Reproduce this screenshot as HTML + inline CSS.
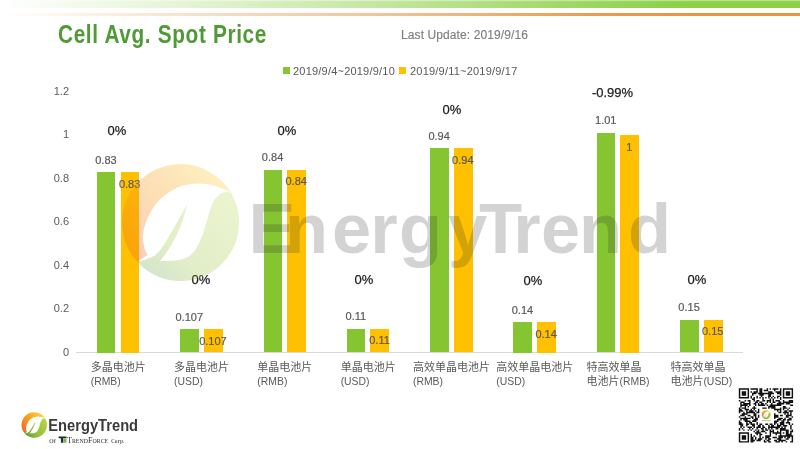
<!DOCTYPE html>
<html lang="zh">
<head>
<meta charset="utf-8">
<title>Cell Avg. Spot Price</title>
<style>
html,body{margin:0;padding:0;}
body{width:800px;height:449px;position:relative;overflow:hidden;background:#fff;font-family:"Liberation Sans","Noto Sans CJK SC",sans-serif;}
.abs{position:absolute;}
.topbar{left:0;top:0;width:800px;height:7.7px;background:linear-gradient(180deg,rgba(255,255,255,0.4) 0,rgba(255,255,255,0.4) 1px,rgba(255,255,255,0) 1.6px),linear-gradient(90deg,rgba(139,208,70,0) 0%,rgba(139,208,70,0.25) 25%,rgba(139,208,70,0.55) 50%,rgba(139,208,70,0.78) 67%,#8bd046 86%,#8bd046 100%);}
.topline{left:0;top:12.8px;width:800px;height:2.8px;background:linear-gradient(90deg,rgba(233,150,69,0) 0%,rgba(233,150,69,0.3) 25%,rgba(233,150,69,0.6) 50%,rgba(233,150,69,0.95) 75%,#e99645 85%,#e99645 100%);}
.title{left:57.5px;top:16.7px;font-size:25.5px;line-height:34px;color:#4f9a35;white-space:nowrap;transform-origin:0 0;font-weight:bold;transform:scaleX(0.815);letter-spacing:0.8px;}
.upd{left:401px;top:27px;font-size:12px;line-height:16px;color:#7f7f7f;white-space:nowrap;transform-origin:0 0;letter-spacing:0.1px;-webkit-text-stroke:0.15px #7f7f7f;}
.leg{font-size:11px;line-height:14px;color:#595959;white-space:nowrap;transform-origin:0 0;}
.sq{width:7px;height:7px;}
.g{background:#86c532;}
.y{background:#ffc000;}
.ylab{font-size:11px;line-height:14px;color:#595959;text-align:right;width:40px;left:29px;}
.axis{left:76px;top:352px;width:667px;height:1px;background:#d9d9d9;}
.dl{font-size:11px;line-height:14px;color:#595959;-webkit-text-stroke:0.2px #595959;white-space:nowrap;text-align:center;width:50px;}
.pct{font-size:13.6px;line-height:18px;color:#1c1c1c;-webkit-text-stroke:0.25px #1c1c1c;white-space:nowrap;text-align:center;width:80px;}
.pct span{display:inline-block;transform:scaleX(0.955);}
.la{font-size:10.4px;}
.cat{font-size:11px;line-height:14px;color:#595959;white-space:nowrap;}
</style>
</head>
<body>
<div class="abs topbar"></div>
<div class="abs topline"></div>
<div class="abs title">Cell Avg. Spot Price</div>
<div class="abs upd">Last Update: 2019/9/16</div>
<div class="abs sq g" style="left:282.6px;top:66.9px"></div>
<div class="abs leg" style="left:293px;top:63.7px;letter-spacing:0.21px">2019/9/4~2019/9/10</div>
<div class="abs sq y" style="left:399.1px;top:66.9px"></div>
<div class="abs leg" style="left:410px;top:63.7px;letter-spacing:0.21px">2019/9/11~2019/9/17</div>

<div class="abs ylab" style="top:344.5px">0</div>
<div class="abs ylab" style="top:301.0px">0.2</div>
<div class="abs ylab" style="top:257.5px">0.4</div>
<div class="abs ylab" style="top:214.0px">0.6</div>
<div class="abs ylab" style="top:170.5px">0.8</div>
<div class="abs ylab" style="top:127.0px">1</div>
<div class="abs ylab" style="top:83.5px">1.2</div>
<div class="abs axis"></div>
<div class="abs bar g" style="left:96.90px;top:172.0px;width:18.6px;height:180.5px"></div>
<div class="abs bar y" style="left:120.55px;top:172.0px;width:18.9px;height:180.5px"></div>
<div class="abs dl" style="left:80.98px;top:152.5px">0.83</div>
<div class="abs dl" style="left:104.63px;top:176.5px">0.83</div>
<div class="abs pct" style="left:76.50px;top:122.00px"><span>0%</span></div>
<div class="abs cat" style="left:118.25px;top:359.6px;transform:translateX(-50%)">多晶电池片<br><span class="la">(RMB)</span></div>
<div class="abs bar g" style="left:180.20px;top:329.2px;width:18.6px;height:23.3px"></div>
<div class="abs bar y" style="left:203.85px;top:329.2px;width:18.9px;height:23.3px"></div>
<div class="abs dl" style="left:164.28px;top:309.7px">0.107</div>
<div class="abs dl" style="left:187.93px;top:333.7px">0.107</div>
<div class="abs pct" style="left:160.55px;top:271.35px"><span>0%</span></div>
<div class="abs cat" style="left:201.55px;top:359.6px;transform:translateX(-50%)">多晶电池片<br><span class="la">(USD)</span></div>
<div class="abs bar g" style="left:263.50px;top:169.8px;width:18.6px;height:182.7px"></div>
<div class="abs bar y" style="left:287.15px;top:169.8px;width:18.9px;height:182.7px"></div>
<div class="abs dl" style="left:247.57px;top:150.3px">0.84</div>
<div class="abs dl" style="left:271.23px;top:174.3px">0.84</div>
<div class="abs pct" style="left:246.75px;top:122.00px"><span>0%</span></div>
<div class="abs cat" style="left:284.85px;top:359.6px;transform:translateX(-50%)">单晶电池片<br><span class="la">(RMB)</span></div>
<div class="abs bar g" style="left:346.80px;top:328.6px;width:18.6px;height:23.9px"></div>
<div class="abs bar y" style="left:370.45px;top:328.6px;width:18.9px;height:23.9px"></div>
<div class="abs dl" style="left:330.87px;top:309.1px">0.11</div>
<div class="abs dl" style="left:354.52px;top:333.1px">0.11</div>
<div class="abs pct" style="left:323.55px;top:271.45px"><span>0%</span></div>
<div class="abs cat" style="left:368.15px;top:359.6px;transform:translateX(-50%)">单晶电池片<br><span class="la">(USD)</span></div>
<div class="abs bar g" style="left:430.10px;top:148.1px;width:18.6px;height:204.4px"></div>
<div class="abs bar y" style="left:453.75px;top:148.1px;width:18.9px;height:204.4px"></div>
<div class="abs dl" style="left:414.17px;top:128.6px">0.94</div>
<div class="abs dl" style="left:437.82px;top:152.6px">0.94</div>
<div class="abs pct" style="left:411.50px;top:100.95px"><span>0%</span></div>
<div class="abs cat" style="left:451.45px;top:359.6px;transform:translateX(-50%)">高效单晶电池片<br><span class="la">(RMB)</span></div>
<div class="abs bar g" style="left:513.40px;top:322.1px;width:18.6px;height:30.5px"></div>
<div class="abs bar y" style="left:537.05px;top:322.1px;width:18.9px;height:30.5px"></div>
<div class="abs dl" style="left:497.47px;top:302.6px">0.14</div>
<div class="abs dl" style="left:521.12px;top:326.6px">0.14</div>
<div class="abs pct" style="left:493.25px;top:271.50px"><span>0%</span></div>
<div class="abs cat" style="left:534.75px;top:359.6px;transform:translateX(-50%)">高效单晶电池片<br><span class="la">(USD)</span></div>
<div class="abs bar g" style="left:596.70px;top:132.8px;width:18.6px;height:219.7px"></div>
<div class="abs bar y" style="left:620.35px;top:135.0px;width:18.9px;height:217.5px"></div>
<div class="abs dl" style="left:580.77px;top:113.3px">1.01</div>
<div class="abs dl" style="left:604.42px;top:139.5px">1</div>
<div class="abs pct" style="left:572.60px;top:83.70px"><span>-0.99%</span></div>
<div class="abs cat" style="left:618.05px;top:359.6px;transform:translateX(-50%)">特高效单晶<br>电池片<span class="la">(RMB)</span></div>
<div class="abs bar g" style="left:680.00px;top:319.9px;width:18.6px;height:32.6px"></div>
<div class="abs bar y" style="left:703.65px;top:319.9px;width:18.9px;height:32.6px"></div>
<div class="abs dl" style="left:664.08px;top:300.4px">0.15</div>
<div class="abs dl" style="left:687.73px;top:324.4px">0.15</div>
<div class="abs pct" style="left:656.95px;top:271.35px"><span>0%</span></div>
<div class="abs cat" style="left:701.35px;top:359.6px;transform:translateX(-50%)">特高效单晶<br>电池片<span class="la">(USD)</span></div>
<svg class="abs" style="left:0;top:0" width="800" height="449" viewBox="0 0 800 449">
<defs>
<linearGradient id="og" gradientUnits="userSpaceOnUse" x1="135" y1="255" x2="225" y2="180"><stop offset="0" stop-color="#f26a22"/><stop offset="0.5" stop-color="#f9a21d"/><stop offset="1" stop-color="#fdd044"/></linearGradient>
<linearGradient id="gg" gradientUnits="userSpaceOnUse" x1="230" y1="195" x2="150" y2="275"><stop offset="0" stop-color="#b4d645"/><stop offset="0.7" stop-color="#94be38"/><stop offset="1" stop-color="#5f9e40"/></linearGradient>
</defs>
<g>
<path d="M137.126,261.644 A58.5,58.5 0 1 1 230.744,192.370 C228.2,191.3 220.9,187.5 215.5,186.0 C210.1,184.5 204.4,183.2 198.2,183.4 C191.9,183.6 184.4,184.5 178.0,187.3 C171.6,190.1 164.6,194.9 159.5,200.0 C154.4,205.1 150.2,212.1 147.5,218.0 C144.8,223.9 143.5,230.3 143.0,235.3 C142.5,240.3 143.8,244.7 144.5,248.0 C145.2,251.3 147.0,253.8 147.5,255.0 Z" fill="url(#og)" opacity="0.33"/>
<path d="M230.744,192.370 A58.5,58.5 0 0 1 137.126,261.644 C138.6,261.3 142.5,261.1 146.0,259.5 C149.5,257.9 154.3,256.7 158.4,252.3 C162.5,248.0 167.1,239.4 170.7,233.4 C174.3,227.4 177.5,221.1 180.2,216.4 C182.9,211.7 185.7,206.9 186.8,205.0 C186.3,206.9 185.6,211.7 184.0,216.4 C182.4,221.1 180.0,227.7 177.3,233.4 C174.6,239.1 170.8,245.8 167.9,250.4 C165.0,255.0 161.3,259.4 160.0,261.2 C162.5,261.1 170.3,261.3 175.0,260.6 C179.7,259.9 184.4,259.1 188.0,257.0 C191.6,254.9 194.0,251.9 196.5,248.0 C199.0,244.1 201.2,237.9 202.9,233.4 C204.6,228.9 205.3,225.8 206.9,220.8 C208.5,215.8 210.2,208.0 212.6,203.4 C215.0,198.8 218.3,195.1 221.3,193.3 C224.3,191.5 229.2,192.5 230.7,192.4 Z" fill="url(#gg)" opacity="0.27"/>
</g>
<text opacity="0.2" fill="#282828" y="252.7" font-family="Liberation Sans, sans-serif" font-weight="bold" font-size="70.5" x="248.5 285.1 332.1 370.2 399.1 448.1 479 513.2 541.1 579.1 628.1">EnergyTrend</text>
<g transform="translate(738.8,388.3) scale(1.4676)"><path d="M0,0h7v1h-7zM8,0h5v1h-5zM14,0h2v1h-2zM19,0h1v1h-1zM21,0h1v1h-1zM23,0h4v1h-4zM28,0h1v1h-1zM30,0h7v1h-7zM0,1h1v1h-1zM6,1h1v1h-1zM12,1h1v1h-1zM14,1h2v1h-2zM17,1h3v1h-3zM24,1h1v1h-1zM28,1h1v1h-1zM30,1h1v1h-1zM36,1h1v1h-1zM0,2h1v1h-1zM2,2h3v1h-3zM6,2h1v1h-1zM8,2h1v1h-1zM10,2h3v1h-3zM14,2h2v1h-2zM20,2h3v1h-3zM25,2h4v1h-4zM30,2h1v1h-1zM32,2h3v1h-3zM36,2h1v1h-1zM0,3h1v1h-1zM2,3h3v1h-3zM6,3h1v1h-1zM9,3h3v1h-3zM13,3h11v1h-11zM26,3h3v1h-3zM30,3h1v1h-1zM32,3h3v1h-3zM36,3h1v1h-1zM0,4h1v1h-1zM2,4h3v1h-3zM6,4h1v1h-1zM9,4h1v1h-1zM14,4h3v1h-3zM20,4h2v1h-2zM28,4h1v1h-1zM30,4h1v1h-1zM32,4h3v1h-3zM36,4h1v1h-1zM0,5h1v1h-1zM6,5h1v1h-1zM8,5h1v1h-1zM12,5h1v1h-1zM15,5h1v1h-1zM20,5h2v1h-2zM23,5h1v1h-1zM26,5h2v1h-2zM30,5h1v1h-1zM36,5h1v1h-1zM0,6h7v1h-7zM8,6h1v1h-1zM10,6h1v1h-1zM12,6h1v1h-1zM14,6h1v1h-1zM16,6h1v1h-1zM18,6h1v1h-1zM20,6h1v1h-1zM22,6h1v1h-1zM24,6h1v1h-1zM26,6h1v1h-1zM28,6h1v1h-1zM30,6h7v1h-7zM9,7h2v1h-2zM16,7h1v1h-1zM21,7h1v1h-1zM23,7h1v1h-1zM28,7h1v1h-1zM0,8h1v1h-1zM4,8h1v1h-1zM6,8h2v1h-2zM10,8h1v1h-1zM12,8h2v1h-2zM16,8h2v1h-2zM19,8h3v1h-3zM23,8h1v1h-1zM25,8h3v1h-3zM30,8h1v1h-1zM34,8h3v1h-3zM1,9h3v1h-3zM7,9h1v1h-1zM11,9h2v1h-2zM14,9h2v1h-2zM19,9h1v1h-1zM21,9h1v1h-1zM23,9h2v1h-2zM27,9h2v1h-2zM30,9h7v1h-7zM1,10h1v1h-1zM3,10h5v1h-5zM10,10h2v1h-2zM13,10h1v1h-1zM15,10h2v1h-2zM18,10h1v1h-1zM22,10h1v1h-1zM26,10h5v1h-5zM32,10h3v1h-3zM1,11h5v1h-5zM7,11h1v1h-1zM11,11h1v1h-1zM13,11h5v1h-5zM19,11h1v1h-1zM21,11h8v1h-8zM35,11h2v1h-2zM1,12h1v1h-1zM4,12h1v1h-1zM6,12h1v1h-1zM10,12h1v1h-1zM20,12h5v1h-5zM30,12h2v1h-2zM0,13h1v1h-1zM2,13h3v1h-3zM9,13h3v1h-3zM16,13h3v1h-3zM20,13h1v1h-1zM22,13h3v1h-3zM28,13h1v1h-1zM30,13h3v1h-3zM34,13h1v1h-1zM0,14h2v1h-2zM4,14h3v1h-3zM8,14h1v1h-1zM10,14h1v1h-1zM13,14h1v1h-1zM24,14h5v1h-5zM30,14h1v1h-1zM33,14h1v1h-1zM0,15h3v1h-3zM5,15h1v1h-1zM7,15h3v1h-3zM11,15h1v1h-1zM13,15h1v1h-1zM26,15h1v1h-1zM28,15h1v1h-1zM31,15h2v1h-2zM34,15h3v1h-3zM0,16h1v1h-1zM3,16h1v1h-1zM5,16h6v1h-6zM12,16h2v1h-2zM27,16h2v1h-2zM30,16h4v1h-4zM35,16h1v1h-1zM2,17h4v1h-4zM10,17h2v1h-2zM24,17h1v1h-1zM31,17h1v1h-1zM33,17h1v1h-1zM35,17h1v1h-1zM1,18h3v1h-3zM6,18h2v1h-2zM10,18h2v1h-2zM13,18h1v1h-1zM24,18h3v1h-3zM28,18h2v1h-2zM32,18h4v1h-4zM0,19h1v1h-1zM4,19h1v1h-1zM8,19h2v1h-2zM11,19h1v1h-1zM13,19h1v1h-1zM24,19h3v1h-3zM32,19h2v1h-2zM36,19h1v1h-1zM1,20h7v1h-7zM9,20h1v1h-1zM11,20h2v1h-2zM24,20h1v1h-1zM27,20h3v1h-3zM31,20h1v1h-1zM34,20h2v1h-2zM1,21h1v1h-1zM3,21h3v1h-3zM10,21h3v1h-3zM26,21h3v1h-3zM30,21h2v1h-2zM33,21h3v1h-3zM0,22h1v1h-1zM4,22h4v1h-4zM9,22h3v1h-3zM24,22h3v1h-3zM29,22h2v1h-2zM33,22h1v1h-1zM0,23h2v1h-2zM5,23h1v1h-1zM7,23h2v1h-2zM12,23h1v1h-1zM24,23h2v1h-2zM28,23h3v1h-3zM32,23h3v1h-3zM0,24h3v1h-3zM5,24h2v1h-2zM8,24h3v1h-3zM12,24h1v1h-1zM14,24h2v1h-2zM18,24h2v1h-2zM21,24h2v1h-2zM24,24h1v1h-1zM26,24h1v1h-1zM28,24h3v1h-3zM34,24h1v1h-1zM36,24h1v1h-1zM1,25h2v1h-2zM5,25h1v1h-1zM9,25h2v1h-2zM13,25h2v1h-2zM16,25h1v1h-1zM20,25h1v1h-1zM22,25h2v1h-2zM26,25h3v1h-3zM30,25h3v1h-3zM35,25h1v1h-1zM1,26h1v1h-1zM3,26h1v1h-1zM6,26h3v1h-3zM10,26h1v1h-1zM12,26h3v1h-3zM16,26h2v1h-2zM20,26h8v1h-8zM29,26h1v1h-1zM31,26h1v1h-1zM35,26h1v1h-1zM0,27h1v1h-1zM2,27h1v1h-1zM7,27h1v1h-1zM9,27h1v1h-1zM12,27h1v1h-1zM15,27h2v1h-2zM18,27h1v1h-1zM20,27h1v1h-1zM22,27h1v1h-1zM25,27h2v1h-2zM28,27h4v1h-4zM35,27h1v1h-1zM0,28h1v1h-1zM3,28h1v1h-1zM6,28h1v1h-1zM8,28h1v1h-1zM11,28h1v1h-1zM13,28h1v1h-1zM16,28h1v1h-1zM18,28h2v1h-2zM21,28h1v1h-1zM23,28h1v1h-1zM28,28h6v1h-6zM36,28h1v1h-1zM10,29h1v1h-1zM12,29h2v1h-2zM15,29h3v1h-3zM21,29h3v1h-3zM26,29h1v1h-1zM28,29h1v1h-1zM32,29h2v1h-2zM35,29h2v1h-2zM0,30h7v1h-7zM11,30h4v1h-4zM18,30h1v1h-1zM21,30h1v1h-1zM23,30h6v1h-6zM30,30h1v1h-1zM32,30h2v1h-2zM35,30h1v1h-1zM0,31h1v1h-1zM6,31h1v1h-1zM8,31h1v1h-1zM12,31h1v1h-1zM14,31h2v1h-2zM21,31h1v1h-1zM25,31h1v1h-1zM28,31h1v1h-1zM32,31h4v1h-4zM0,32h1v1h-1zM2,32h3v1h-3zM6,32h1v1h-1zM8,32h1v1h-1zM10,32h1v1h-1zM14,32h1v1h-1zM18,32h4v1h-4zM27,32h10v1h-10zM0,33h1v1h-1zM2,33h3v1h-3zM6,33h1v1h-1zM8,33h2v1h-2zM11,33h1v1h-1zM14,33h1v1h-1zM16,33h1v1h-1zM18,33h3v1h-3zM23,33h3v1h-3zM27,33h3v1h-3zM31,33h1v1h-1zM33,33h2v1h-2zM36,33h1v1h-1zM0,34h1v1h-1zM2,34h3v1h-3zM6,34h1v1h-1zM8,34h2v1h-2zM11,34h1v1h-1zM13,34h3v1h-3zM18,34h1v1h-1zM20,34h2v1h-2zM26,34h3v1h-3zM32,34h2v1h-2zM36,34h1v1h-1zM0,35h1v1h-1zM6,35h1v1h-1zM8,35h3v1h-3zM12,35h3v1h-3zM17,35h1v1h-1zM19,35h2v1h-2zM24,35h2v1h-2zM27,35h5v1h-5zM36,35h1v1h-1zM0,36h7v1h-7zM8,36h2v1h-2zM17,36h2v1h-2zM20,36h2v1h-2zM25,36h3v1h-3zM29,36h1v1h-1zM32,36h1v1h-1zM35,36h2v1h-2z" fill="#111"/></g>
<g transform="translate(766.2,414.6) scale(0.075) translate(-180.6,-222.5)">
<path d="M137.126,261.644 A58.5,58.5 0 1 1 230.744,192.370 C228.2,191.3 220.9,187.5 215.5,186.0 C210.1,184.5 204.4,183.2 198.2,183.4 C191.9,183.6 184.4,184.5 178.0,187.3 C171.6,190.1 164.6,194.9 159.5,200.0 C154.4,205.1 150.2,212.1 147.5,218.0 C144.8,223.9 143.5,230.3 143.0,235.3 C142.5,240.3 143.8,244.7 144.5,248.0 C145.2,251.3 147.0,253.8 147.5,255.0 Z" fill="url(#og)"/>
<path d="M230.744,192.370 A58.5,58.5 0 0 1 137.126,261.644 C138.6,261.3 142.5,261.1 146.0,259.5 C149.5,257.9 154.3,256.7 158.4,252.3 C162.5,248.0 167.1,239.4 170.7,233.4 C174.3,227.4 177.5,221.1 180.2,216.4 C182.9,211.7 185.7,206.9 186.8,205.0 C186.3,206.9 185.6,211.7 184.0,216.4 C182.4,221.1 180.0,227.7 177.3,233.4 C174.6,239.1 170.8,245.8 167.9,250.4 C165.0,255.0 161.3,259.4 160.0,261.2 C162.5,261.1 170.3,261.3 175.0,260.6 C179.7,259.9 184.4,259.1 188.0,257.0 C191.6,254.9 194.0,251.9 196.5,248.0 C199.0,244.1 201.2,237.9 202.9,233.4 C204.6,228.9 205.3,225.8 206.9,220.8 C208.5,215.8 210.2,208.0 212.6,203.4 C215.0,198.8 218.3,195.1 221.3,193.3 C224.3,191.5 229.2,192.5 230.7,192.4 Z" fill="url(#gg)"/>
</g>
<rect x="762" y="420.2" width="8.5" height="0.9" fill="#7ab648" opacity="0.7"/>
<text x="48.3" y="431.2" font-family="Liberation Sans, sans-serif" font-weight="bold" font-size="16" textLength="89.8" lengthAdjust="spacingAndGlyphs" fill="#3b3b3b">EnergyTrend</text>
<text x="49" y="442.6" font-family="Liberation Serif, serif" font-weight="bold" font-size="6.3" textLength="6.8" lengthAdjust="spacingAndGlyphs" fill="#6a6a6a">Of</text>
<path d="M58.6,436.6h7.9v1.6h-3.4v4.5h-2.2v-4.5h-2.3z" fill="#1d2a3a"/>
<rect x="63.2" y="438.6" width="3.3" height="4.1" fill="#7ab648"/>
<text x="67" y="442.6" font-family="Liberation Serif, serif" font-size="8.2" style="font-variant:small-caps" textLength="41.2" lengthAdjust="spacingAndGlyphs" fill="#333">TrendForce</text>
<text x="110.9" y="442.6" font-family="Liberation Serif, serif" font-weight="bold" font-size="6.3" textLength="13.5" lengthAdjust="spacingAndGlyphs" fill="#6a6a6a">Corp.</text>
<g transform="translate(34.2,425) scale(0.2174) translate(-180.6,-222.5)">
<path d="M137.126,261.644 A58.5,58.5 0 1 1 230.744,192.370 C228.2,191.3 220.9,187.5 215.5,186.0 C210.1,184.5 204.4,183.2 198.2,183.4 C191.9,183.6 184.4,184.5 178.0,187.3 C171.6,190.1 164.6,194.9 159.5,200.0 C154.4,205.1 150.2,212.1 147.5,218.0 C144.8,223.9 143.5,230.3 143.0,235.3 C142.5,240.3 143.8,244.7 144.5,248.0 C145.2,251.3 147.0,253.8 147.5,255.0 Z" fill="url(#og)"/>
<path d="M230.744,192.370 A58.5,58.5 0 0 1 137.126,261.644 C138.6,261.3 142.5,261.1 146.0,259.5 C149.5,257.9 154.3,256.7 158.4,252.3 C162.5,248.0 167.1,239.4 170.7,233.4 C174.3,227.4 177.5,221.1 180.2,216.4 C182.9,211.7 185.7,206.9 186.8,205.0 C186.3,206.9 185.6,211.7 184.0,216.4 C182.4,221.1 180.0,227.7 177.3,233.4 C174.6,239.1 170.8,245.8 167.9,250.4 C165.0,255.0 161.3,259.4 160.0,261.2 C162.5,261.1 170.3,261.3 175.0,260.6 C179.7,259.9 184.4,259.1 188.0,257.0 C191.6,254.9 194.0,251.9 196.5,248.0 C199.0,244.1 201.2,237.9 202.9,233.4 C204.6,228.9 205.3,225.8 206.9,220.8 C208.5,215.8 210.2,208.0 212.6,203.4 C215.0,198.8 218.3,195.1 221.3,193.3 C224.3,191.5 229.2,192.5 230.7,192.4 Z" fill="url(#gg)"/>
</g>
</svg>
</body>
</html>
